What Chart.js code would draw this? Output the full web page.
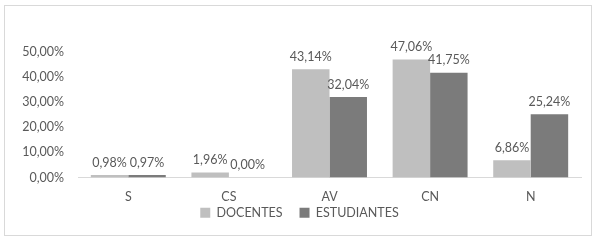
<!DOCTYPE html>
<html>
<head>
<meta charset="utf-8">
<script src="https://cdn.jsdelivr.net/npm/chart.js@4"></script>
<style>
  html, body { margin: 0; padding: 0; background: #fff; }
  #wrap { position: relative; width: 598px; height: 242px; }
  #frame { position: absolute; left: 4px; top: 5px; width: 586px; height: 229px; border: 1px solid #d9d9d9; }
  canvas { position: absolute; left: 0; top: 0; }
</style>
</head>
<body>
<div id="wrap">
  <div id="frame"></div>
  <canvas id="chart" width="598" height="242"></canvas>
</div>
<script>
// datos
const categorias = ["S", "CS", "AV", "CN", "N"];
const docentes = [0.98, 1.96, 43.14, 47.06, 6.86];
const estudiantes = [0.97, 0.00, 32.04, 41.75, 25.24];
const ticksY = [0, 10, 20, 30, 40, 50];

const fuente = { family: "Lato, 'Liberation Sans', sans-serif", size: 12.5 };
const colorTexto = "#595959";

function pct(v) {
  return v.toFixed(2).replace(".", ",") + "%";
}

// etiquetas encima de las barras
const etiquetas = {
  id: "etiquetas",
  afterDatasetsDraw(chart) {
    const ctx = chart.ctx;
    ctx.save();
    ctx.font = fuente.size + "px " + fuente.family;
    ctx.fillStyle = colorTexto;
    ctx.textAlign = "center";
    ctx.textBaseline = "bottom";
    chart.data.datasets.forEach((ds, i) => {
      chart.getDatasetMeta(i).data.forEach((bar, j) => {
        ctx.fillText(pct(ds.data[j]), bar.x, bar.y - 6);
      });
    });
    ctx.restore();
  }
};

// mueve la leyenda (el padding grande es solo para separar los items)
const moverLeyenda = {
  id: "moverLeyenda",
  afterLayout(chart) {
    const lg = chart.legend;
    if (lg) {
      lg.top -= 13;
      lg.bottom -= 13;
      lg.left += 9;
      lg.right += 9;
    }
  }
};

new Chart(document.getElementById("chart"), {
  type: "bar",
  data: {
    labels: categorias,
    datasets: [
      { label: "DOCENTES", data: docentes, backgroundColor: "#bfbfbf" },
      { label: "ESTUDIANTES", data: estudiantes, backgroundColor: "#7b7b7b" }
    ]
  },
  options: {
    responsive: false,
    animation: false,
    layout: { padding: { top: 52, right: 17, bottom: 0, left: 0 } },
    datasets: { bar: { barPercentage: 1, categoryPercentage: 0.745 } },
    plugins: {
      legend: {
        position: "bottom",
        labels: {
          boxWidth: 10, boxHeight: 10, padding: 17,
          color: colorTexto, font: fuente
        }
      },
      tooltip: { enabled: false }
    },
    scales: {
      x: {
        afterFit(s) { s.height = 25; },
        grid: { display: false, drawTicks: false },
        border: { color: "#d9d9d9" },
        ticks: { color: colorTexto, font: fuente, padding: 12 }
      },
      y: {
        min: 0, max: 50,
        afterFit(s) { s.width = 78; },
        afterBuildTicks(s) { s.ticks = ticksY.map(v => ({ value: v })); },
        grid: { display: false, drawTicks: false },
        border: { display: false },
        ticks: { color: colorTexto, font: fuente, padding: 14, callback: v => pct(v) }
      }
    }
  },
  plugins: [etiquetas, moverLeyenda]
});
</script>
</body>
</html>
